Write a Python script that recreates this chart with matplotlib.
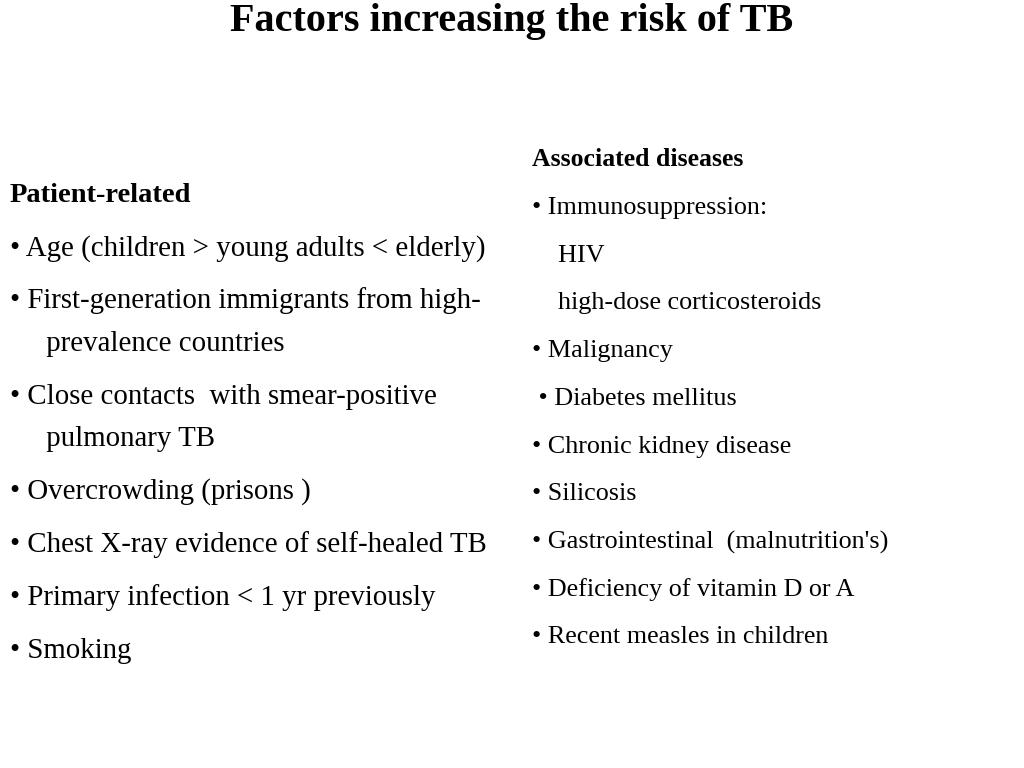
import matplotlib
matplotlib.use("Agg")
import matplotlib.pyplot as plt

title = "Factors increasing the risk of TB"
left_heading = "Patient-related"
left_lines = [
    ("• Age (children > young adults < elderly)", 249),
    ("• First-generation immigrants from high-", 301),
    ("     prevalence countries", 344),
    ("• Close contacts  with smear-positive", 397),
    ("     pulmonary TB", 439),
    ("• Overcrowding (prisons )", 492),
    ("• Chest X-ray evidence of self-healed TB", 545),
    ("• Primary infection < 1 yr previously", 598),
    ("• Smoking", 651),
]
right_heading = "Associated diseases"
right_lines = [
    ("• Immunosuppression:", 208),
    ("    HIV", 256),
    ("    high-dose corticosteroids", 303),
    ("• Malignancy", 351),
    (" • Diabetes mellitus", 399),
    ("• Chronic kidney disease", 447),
    ("• Silicosis", 494),
    ("• Gastrointestinal  (malnutrition's)", 542),
    ("• Deficiency of vitamin D or A", 590),
    ("• Recent measles in children", 637),
]

W, H = 1024, 768
fig = plt.figure(figsize=(10.24, 7.68), dpi=100)
fig.patch.set_facecolor("white")
serif = "Liberation Serif"

def y(p):
    return 1 - p / H

fig.text(0.5, y(22), title, ha="center", va="center", fontsize=29,
         fontweight="bold", family=serif)
fig.text(10 / W, y(196), left_heading, ha="left", va="center", fontsize=20.5,
         fontweight="bold", family=serif)
for t, py in left_lines:
    fig.text(10 / W, y(py), t, ha="left", va="center", fontsize=20.8, family=serif)
fig.text(532 / W, y(160), right_heading, ha="left", va="center", fontsize=18.5,
         fontweight="bold", family=serif)
for t, py in right_lines:
    fig.text(532 / W, y(py), t, ha="left", va="center", fontsize=18.8, family=serif)

fig.savefig("out.png", dpi=100, facecolor="white")
